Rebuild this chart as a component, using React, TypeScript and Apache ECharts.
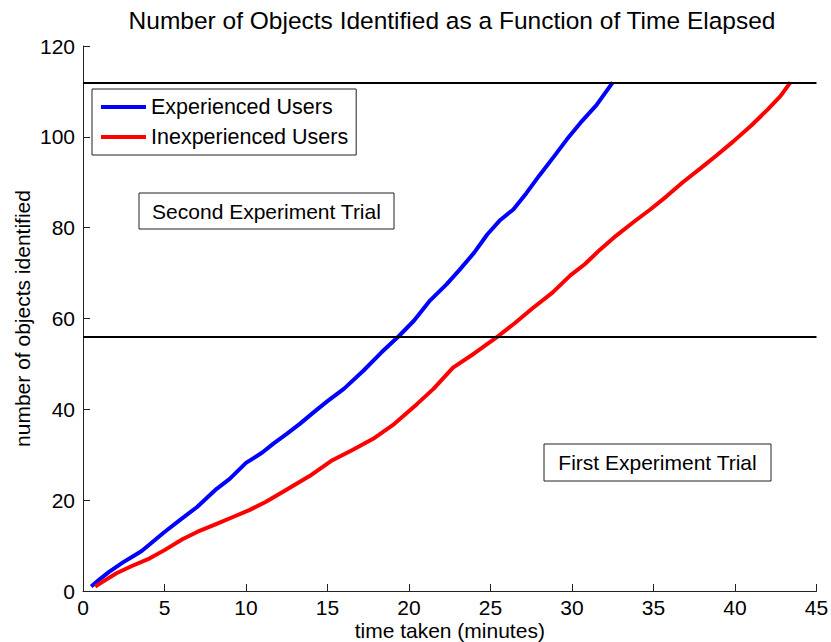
import React, { useEffect, useRef } from "react";
import * as echarts from "echarts";

// Cumulative objects identified vs. minutes elapsed, [minutes, count]
const experiencedUsers: [number, number][] = [
  [0.5, 1], [1, 2.5], [1.6, 4.2], [2.45, 6.3], [3, 7.5], [3.6, 8.8], [4.1, 10.3], [5, 13],
  [5.9, 15.5], [7, 18.5], [8.2, 22.5], [9, 24.7], [10, 28.2], [11, 30.5],
  [11.7, 32.5], [12.5, 34.6], [13.3, 36.8], [14.2, 39.5], [15, 41.8], [16, 44.5],
  [17.2, 48.5], [18.3, 52.5], [19.4, 56.2], [20.3, 59.5], [21.3, 64], [22.3, 67.5],
  [23.1, 70.7], [24, 74.5], [24.8, 78.5], [25.6, 81.7], [26.4, 84], [27.2, 87.6],
  [28, 91.5], [28.9, 95.7], [29.7, 99.5], [30.5, 103], [31.5, 107], [32.5, 112],
];

const inexperiencedUsers: [number, number][] = [
  [0.75, 1], [1.2, 2], [2.05, 3.9], [3, 5.5], [4.1, 7.2], [5, 9], [6.1, 11.4],
  [7, 13], [8.2, 14.8], [9.2, 16.3], [10.2, 17.8], [11.2, 19.6], [12.3, 21.9],
  [13.9, 25.3], [15.3, 28.8], [16.5, 31], [17.8, 33.5], [19, 36.5], [20.5, 41.2],
  [21.5, 44.5], [22.7, 49.2], [24, 52.3], [25.5, 56.2], [26.5, 59], [27.6, 62.3],
  [28.8, 65.7], [29.9, 69.5], [30.8, 72], [31.7, 75.1], [32.7, 78.2], [33.8, 81.3],
  [34.8, 84], [35.8, 86.9], [36.8, 90], [37.9, 93.1], [38.9, 96], [39.9, 99],
  [41, 102.5], [42, 106], [42.8, 109], [43.4, 112],
];

// Object counts that end each experiment trial
const trialThresholds = [56, 112];

const seriesNames = ["Experienced Users", "Inexperienced Users"];
const trialLabels = ["Second Experiment Trial", "First Experiment Trial"];

const FONT = "Arial, 'Liberation Sans', Helvetica, sans-serif";

export default function App() {
  const ref = useRef<HTMLDivElement>(null);

  useEffect(() => {
    if (!ref.current) return;
    const chart = echarts.init(ref.current, undefined, { renderer: "svg" });

    const axisCommon = {
      axisLine: { show: true, lineStyle: { color: "#222", width: 1 } },
      axisTick: { show: true, inside: true, length: 7, lineStyle: { color: "#222" } },
      splitLine: { show: false },
      axisLabel: { color: "#000", fontSize: 21, lineHeight: 21, fontFamily: FONT },
      nameTextStyle: { color: "#000", fontSize: 21, lineHeight: 21, fontFamily: FONT },
      nameMoveOverlap: false,
    };

    const boxText = (text: string, x: number, y: number, w: number, h: number) => ({
      type: "group",
      left: x,
      top: y,
      children: [
        {
          type: "rect",
          shape: { x: 0, y: 0, width: w, height: h },
          style: { fill: "#fff", stroke: "#222", lineWidth: 1 },
        },
        {
          type: "text",
          x: w / 2,
          y: h / 2,
          style: {
            text,
            fill: "#000",
            font: `21px ${FONT}`,
            textAlign: "center",
            textVerticalAlign: "middle",
          },
        },
      ],
    });

    chart.setOption({
      animation: false,
      backgroundColor: "#fff",
      title: {
        text: "Number of Objects Identified as a Function of Time Elapsed",
        left: 447,
        top: 3,
        textAlign: "center",
        textStyle: { color: "#000", fontSize: 24.5, fontWeight: "normal", fontFamily: FONT },
      },
      grid: {
        left: 83,
        right: 14.5,
        top: 46,
        bottom: 51,
        containLabel: false,
        outerBoundsMode: "none",
      },
      xAxis: {
        type: "value",
        min: 0,
        max: 45,
        interval: 5,
        name: "time taken (minutes)",
        nameLocation: "middle",
        nameGap: 28.5,
        ...axisCommon,
        axisLabel: { ...axisCommon.axisLabel, margin: 6 },
      },
      yAxis: {
        type: "value",
        min: 0,
        max: 120,
        interval: 20,
        name: "number of objects identified",
        nameLocation: "middle",
        nameGap: 50,
        ...axisCommon,
        axisLabel: { ...axisCommon.axisLabel, margin: 8 },
      },
      legend: {
        orient: "vertical",
        left: 92,
        top: 89,
        padding: [7, 8, 7, 9],
        borderColor: "#222",
        borderWidth: 1,
        backgroundColor: "#fff",
        itemWidth: 45,
        itemHeight: 4,
        itemGap: 8,
        icon: "rect",
        textStyle: { color: "#000", fontSize: 21.5, fontFamily: FONT, lineHeight: 20 },
        data: seriesNames,
      },
      series: [
        {
          name: seriesNames[0],
          type: "line",
          data: experiencedUsers,
          showSymbol: false,
          symbol: "none",
          lineStyle: { color: "#0000ff", width: 4 },
          itemStyle: { color: "#0000ff" },
          z: 3,
          markLine: {
            silent: true,
            symbol: ["none", "none"],
            label: { show: false },
            lineStyle: { color: "#000", width: 2, type: "solid" },
            data: trialThresholds.map((v) => ({ yAxis: v })),
          },
        },
        {
          name: seriesNames[1],
          type: "line",
          data: inexperiencedUsers,
          showSymbol: false,
          symbol: "none",
          lineStyle: { color: "#ff0000", width: 4 },
          itemStyle: { color: "#ff0000" },
          z: 3,
        },
      ],
      graphic: [
        boxText(trialLabels[0], 138.5, 192.5, 255, 36),
        boxText(trialLabels[1], 543.5, 443.5, 227, 37),
      ],
    });

    return () => chart.dispose();
  }, []);

  return (
    <div
      ref={ref}
      style={{ position: "absolute", left: 0, top: 0, width: 831, height: 642 }}
    />
  );
}
